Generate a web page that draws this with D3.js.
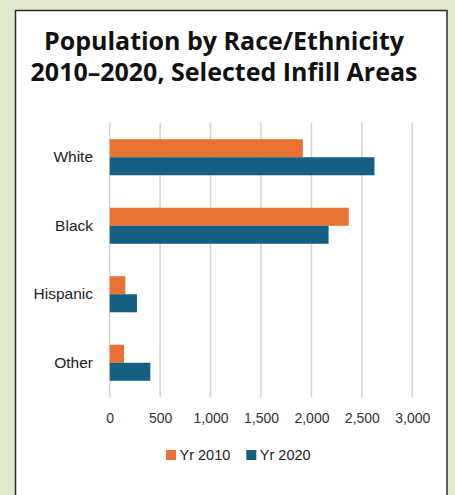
<!DOCTYPE html>
<html>
<head>
<meta charset="utf-8">
<script src="https://cdn.jsdelivr.net/npm/d3@7"></script>
<style>
  body { margin: 0; background: #e1e9cc; }
  svg { display: block; }
</style>
</head>
<body>
<script>
const w = 455
const h = 495

const categories = ["White", "Black", "Hispanic", "Other"]
const series = ["Yr 2010", "Yr 2020"]
const yr2010 = [1915, 2370, 155, 142]
const yr2020 = [2625, 2170, 270, 403]
const xTicks = [0, 500, 1000, 1500, 2000, 2500, 3000]
const titleLines = ["Population by Race/Ethnicity", "2010\u20132020, Selected Infill Areas"]

const colors = { "Yr 2010": "#e97132", "Yr 2020": "#156082" }

let dataset = categories.map((c, i) => ({ cat: c, values: [
  { key: "Yr 2010", value: yr2010[i] },
  { key: "Yr 2020", value: yr2020[i] }
] }))

const svg = d3.select("body").append("svg")
  .attr("width", w)
  .attr("height", h)

// white panel
svg.append("rect")
  .attr("x", 15.5)
  .attr("y", 10.5)
  .attr("width", 431.5)
  .attr("height", 500)
  .attr("fill", "white")
  .attr("stroke", "#2b2b2b")
  .attr("stroke-width", 1.5)

// title
svg.append("g").selectAll("text")
  .data(titleLines)
  .enter()
  .append("text")
  .attr("x", 224)
  .attr("y", (d, i) => 50 + i * 31)
  .attr("text-anchor", "middle")
  .attr("font-family", "Open Sans")
  .attr("font-weight", "bold")
  .attr("font-size", 25)
  .attr("fill", "#111")
  .text(d => d)

const plotTop = 123
const plotBottom = 397

let xScale = d3.scaleLinear()
  .domain([0, 3000])
  .range([109.7, 412.3])

let yScale = d3.scaleBand()
  .domain(categories)
  .range([plotTop, plotBottom])
  .paddingInner(0.474)
  .paddingOuter(0.237)

let subScale = d3.scaleBand()
  .domain(series)
  .range([0, yScale.bandwidth()])

// gridlines
svg.append("g").selectAll("line")
  .data(xTicks)
  .enter()
  .append("line")
  .attr("x1", d => xScale(d))
  .attr("x2", d => xScale(d))
  .attr("y1", plotTop)
  .attr("y2", plotBottom)
  .attr("stroke", "#d4d4d4")
  .attr("stroke-width", 1.5)

// bars
let groups = svg.append("g").selectAll("g")
  .data(dataset)
  .enter()
  .append("g")
  .attr("transform", d => "translate(0," + yScale(d.cat) + ")")

groups.selectAll("rect")
  .data(d => d.values)
  .enter()
  .append("rect")
  .attr("x", xScale(0))
  .attr("y", d => subScale(d.key))
  .attr("width", d => xScale(d.value) - xScale(0))
  .attr("height", subScale.bandwidth())
  .attr("fill", d => colors[d.key])

// x axis labels
let xAxis = d3.axisBottom(xScale)
  .tickValues(xTicks)
  .tickFormat(d3.format(","))
  .tickSize(0)
  .tickPadding(0)

let xg = svg.append("g")
  .attr("transform", "translate(0,413)")
  .call(xAxis)
xg.select(".domain").remove()
xg.selectAll("text")
  .attr("font-family", "Liberation Sans")
  .attr("font-size", 14)
  .attr("fill", "#333")

// y axis labels
let yAxis = d3.axisLeft(yScale).tickSize(0).tickPadding(0)
let yg = svg.append("g")
  .attr("transform", "translate(93,0)")
  .call(yAxis)
yg.select(".domain").remove()
yg.selectAll("text")
  .attr("font-family", "Liberation Sans")
  .attr("font-size", 15.5)
  .attr("fill", "#222")

// legend
let legend = svg.append("g")
  .attr("transform", "translate(166,450)")
let items = legend.selectAll("g")
  .data(series)
  .enter()
  .append("g")
  .attr("transform", (d, i) => "translate(" + i * 80.3 + ",0)")
items.append("rect")
  .attr("width", 10)
  .attr("height", 10)
  .attr("fill", d => colors[d])
items.append("text")
  .attr("x", 13.5)
  .attr("y", 10)
  .attr("font-family", "Liberation Sans")
  .attr("font-size", 14.5)
  .attr("fill", "#222")
  .text(d => d)
</script>
</body>
</html>
